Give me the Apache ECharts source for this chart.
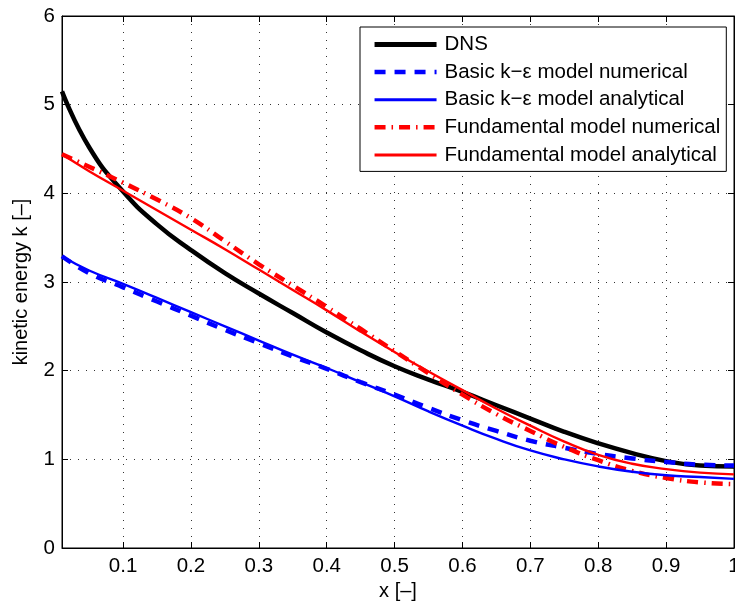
<!DOCTYPE html>
<html><head><meta charset="utf-8">
<script src="https://cdn.jsdelivr.net/npm/echarts@6/dist/echarts.min.js"></script>
<style>html,body{margin:0;padding:0;background:#fff}#c{width:735px;height:608px}</style>
</head><body><div id="c"></div>
<script>
var xs = [0.01, 0.05, 0.1, 0.15, 0.2, 0.25, 0.3, 0.35, 0.4, 0.45, 0.5, 0.55, 0.6, 0.65, 0.7, 0.75, 0.8, 0.85, 0.9, 0.95, 1.0];
var dns      = [5.15, 4.52, 4.02, 3.65, 3.36, 3.10, 2.87, 2.65, 2.43, 2.23, 2.05, 1.90, 1.76, 1.61, 1.46, 1.31, 1.18, 1.07, 0.98, 0.93, 0.92];
var basicNum = [3.29, 3.10, 2.94, 2.78, 2.62, 2.46, 2.31, 2.16, 2.02, 1.87, 1.73, 1.58, 1.44, 1.32, 1.21, 1.13, 1.06, 1.01, 0.97, 0.94, 0.93];
var basicAna = [3.29, 3.13, 2.98, 2.82, 2.66, 2.50, 2.34, 2.18, 2.03, 1.87, 1.71, 1.54, 1.38, 1.23, 1.10, 1.00, 0.92, 0.86, 0.82, 0.80, 0.78];
var fundNum  = [4.44, 4.30, 4.12, 3.93, 3.72, 3.46, 3.20, 2.96, 2.72, 2.47, 2.22, 1.97, 1.73, 1.51, 1.32, 1.14, 0.99, 0.87, 0.79, 0.74, 0.72];
var fundAna  = [4.44, 4.25, 4.03, 3.81, 3.59, 3.37, 3.14, 2.91, 2.68, 2.44, 2.21, 1.99, 1.78, 1.57, 1.38, 1.20, 1.05, 0.95, 0.89, 0.85, 0.83];
var xTicks = [0.1, 0.2, 0.3, 0.4, 0.5, 0.6, 0.7, 0.8, 0.9, 1];
var names = ['DNS', 'Basic k\u2212\u03b5 model numerical', 'Basic k\u2212\u03b5 model analytical', 'Fundamental model numerical', 'Fundamental model analytical'];

function pairs(ys){ return xs.map(function(x,i){ return [x, ys[i]]; }); }
var FONT = 'Liberation Sans, Arial, Helvetica, sans-serif';
var gridLine = {show:true, lineStyle:{color:'#333', type:[1,7], width:1}};
var styles = [
  {color:'#000', width:4.5},
  {color:'#0000ff', width:4.5, type:[11,9]},
  {color:'#0000ff', width:2.4},
  {color:'#ff0000', width:4.5, type:[11,6,1.5,6]},
  {color:'#ff0000', width:2.4}
];
var seriesData = [dns, basicNum, basicAna, fundNum, fundAna];
var zs = [3, 4, 5, 4, 5];

var chart = echarts.init(document.getElementById('c'), null, {renderer:'canvas'});
chart.setOption({
  animation:false,
  backgroundColor:'#fff',
  grid:{left:62, right:1, top:16, bottom:60, outerBoundsMode:'none', containLabel:false,
        show:true, borderColor:'#000', borderWidth:1, backgroundColor:'transparent'},
  legend:{
    orient:'vertical', left:360, top:27,
    backgroundColor:'#fff', borderColor:'#000', borderWidth:1,
    padding:[7, 6, 6, 12], itemGap:6.6, itemWidth:62, itemHeight:14,
    itemStyle:{opacity:0},
    textStyle:{fontFamily:FONT, fontSize:20.5, lineHeight:20, color:'#000', padding:[0,0,0,3]},
    data:names.map(function(n,i){ return {name:n, lineStyle:{width:styles[i].width + (styles[i].type ? 0 : 0.6)}}; })
  },
  xAxis:[{
    type:'value', min:0.01, max:1, position:'bottom',
    name:'x [\u2013]', nameLocation:'middle', nameGap:29,
    nameTextStyle:{fontFamily:FONT, fontSize:20, color:'#000'},
    axisLine:{show:true, onZero:false, lineStyle:{color:'#000', width:1}},
    axisTick:{show:true, inside:true, length:6, customValues:xTicks, lineStyle:{color:'#000'}},
    axisLabel:{customValues:xTicks, fontFamily:FONT, fontSize:20.5, color:'#000', margin:8,
      formatter:function(v){ return String(Math.round(v*10)/10); }},
    splitLine:gridLine
  },{
    type:'value', min:0.01, max:1, position:'top',
    axisLine:{show:true, onZero:false, lineStyle:{color:'#000'}},
    axisTick:{show:true, inside:true, length:6, customValues:xTicks, lineStyle:{color:'#000'}},
    axisLabel:{show:false}, splitLine:{show:false}
  }],
  yAxis:[{
    type:'value', min:0, max:6, interval:1, position:'left',
    name:'kinetic energy k [\u2013]', nameLocation:'middle', nameGap:31,
    nameTextStyle:{fontFamily:FONT, fontSize:20, color:'#000'},
    axisLine:{show:true, onZero:false, lineStyle:{color:'#000', width:1}},
    axisTick:{show:true, inside:true, length:6, lineStyle:{color:'#000'}},
    axisLabel:{fontFamily:FONT, fontSize:20.5, color:'#000', margin:7},
    splitLine:gridLine
  },{
    type:'value', min:0, max:6, interval:1, position:'right',
    axisLine:{show:true, onZero:false, lineStyle:{color:'#000'}},
    axisTick:{show:true, inside:true, length:6, lineStyle:{color:'#000'}},
    axisLabel:{show:false}, splitLine:{show:false}
  }],
  series:names.map(function(n,i){
    return {name:n, type:'line', smooth:true, symbol:'none', data:pairs(seriesData[i]), z:zs[i],
      lineStyle:styles[i], itemStyle:{color:styles[i].color}};
  })
});
</script></body></html>
